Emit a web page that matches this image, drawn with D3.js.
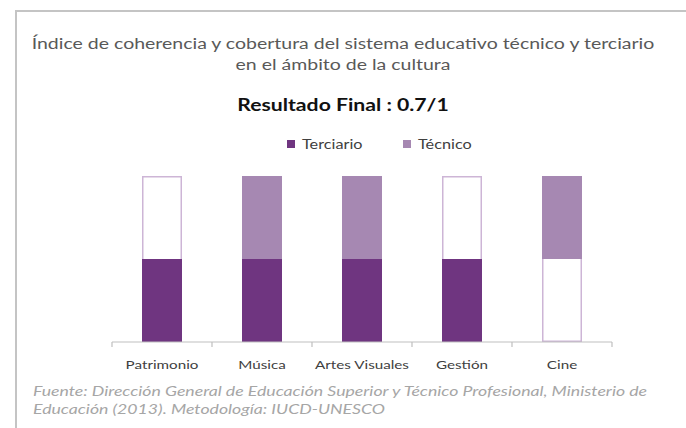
<!DOCTYPE html>
<html lang="es">
<head>
    <style>
        body { margin: 0; background: #fff; }
        svg { display: block; }
    </style>
</head>
<body>
    <svg width="686" height="428"></svg>
    <script src="https://cdn.jsdelivr.net/npm/d3@7/dist/d3.min.js"></script>
    <script>
        // Data
        const categories = ["Patrimonio", "Música", "Artes Visuales", "Gestión", "Cine"];
        const terciario = [0.5, 0.5, 0.5, 0.5, 0];
        const tecnico = [0, 0.5, 0.5, 0, 0.5];
        const tecnicoBase = 0.5; // técnico block sits above the terciario slot
        const maxScore = 1;
        const seriesNames = ["Terciario", "Técnico"];
        const colors = { terciario: "#6f3580", tecnico: "#a688b2", outline: "#cdb5d6" };

        const svg = d3.select("svg");
        const font = "Lato, 'Open Sans', sans-serif";
        const stretch = 1.3; // the source picture is widened horizontally

        // place a text at (x, y) with the horizontal stretch
        function place(sel, x, y) {
            return sel.attr("transform", `translate(${x}, ${y}) scale(${stretch}, 1)`);
        }

        // Frame
        svg.append("path")
            .attr("d", "M 16 430 L 16 11 L 690 11")
            .style("fill", "none").style("stroke", "#c4c4c4").style("stroke-width", 2);

        // Titles
        const titles = svg.append("g").style("font-family", font).attr("text-anchor", "middle");
        place(titles.append("text"), 343, 49)
            .style("font-size", "15px").style("fill", "#595959")
            .text("Índice de coherencia y cobertura del sistema educativo técnico y terciario");
        place(titles.append("text"), 343, 70)
            .style("font-size", "15px").style("fill", "#595959")
            .text("en el ámbito de la cultura");
        place(titles.append("text"), 343, 111)
            .style("font-size", "16.3px").style("font-weight", "bold").style("fill", "#111")
            .text("Resultado Final : 0.7/1");

        // Legend
        const legend = svg.append("g").style("font-family", font).style("font-size", "12.5px");
        const legendX = [287, 403];
        seriesNames.forEach((name, i) => {
            const g = legend.append("g").attr("transform", `translate(${legendX[i]}, 140)`);
            g.append("rect").attr("width", 8).attr("height", 8)
                .style("fill", i === 0 ? colors.terciario : colors.tecnico);
            place(g.append("text"), 15, 9).style("fill", "#404040").text(name);
        });

        // Scales
        const x = d3.scaleBand().domain(categories).range([112, 612]).paddingInner(0.6).paddingOuter(0.3);
        const y = d3.scaleLinear().domain([0, maxScore]).range([342, 176]);

        const chart = svg.append("g");

        // Column outlines (full scale)
        chart.selectAll(".outline").data(categories).enter()
            .append("rect").attr("class", "outline")
            .attr("x", d => x(d) + 0.75).attr("width", x.bandwidth() - 1.5)
            .attr("y", y(maxScore) + 0.75).attr("height", y(0) - y(maxScore) - 1.5)
            .style("fill", "#fff").style("stroke", colors.outline).style("stroke-width", 1.5);

        // Terciario
        chart.selectAll(".terciario").data(terciario).enter()
            .append("rect").attr("class", "terciario")
            .attr("x", (d, i) => x(categories[i])).attr("width", x.bandwidth())
            .attr("y", d => y(d)).attr("height", d => y(0) - y(d))
            .style("fill", colors.terciario);

        // Técnico
        chart.selectAll(".tecnico").data(tecnico).enter()
            .append("rect").attr("class", "tecnico")
            .attr("x", (d, i) => x(categories[i])).attr("width", x.bandwidth())
            .attr("y", d => y(tecnicoBase + d)).attr("height", d => y(tecnicoBase) - y(tecnicoBase + d))
            .style("fill", colors.tecnico);

        // Axis
        const axis = chart.append("g").attr("transform", `translate(0, ${y(0)})`)
            .call(d3.axisBottom(x).tickSize(0).tickPadding(19));
        axis.select(".domain").remove();
        axis.selectAll("text")
            .style("font-family", font).style("font-size", "11.7px").style("fill", "#404040")
            .attr("transform", `scale(${stretch}, 1)`);
        // category separators on the baseline
        const step = (x.range()[1] - x.range()[0]) / categories.length;
        const seps = d3.range(categories.length + 1).map(i => x.range()[0] + i * step);
        axis.append("line").attr("x1", seps[0]).attr("x2", seps[seps.length - 1])
            .style("stroke", "#bfbfbf").style("stroke-width", 1.2);
        axis.selectAll(".sep").data(seps).enter().append("line").attr("class", "sep")
            .attr("x1", d => d).attr("x2", d => d).attr("y1", 0).attr("y2", 5)
            .style("stroke", "#bfbfbf").style("stroke-width", 1.2);

        // Source
        const src = svg.append("g").style("font-family", font).style("font-size", "13.6px")
            .style("font-style", "italic").style("fill", "#a6a6a6");
        place(src.append("text"), 33, 396)
            .text("Fuente: Dirección General de Educación Superior y Técnico Profesional, Ministerio de");
        place(src.append("text"), 33, 414)
            .text("Educación (2013). Metodología: IUCD-UNESCO");
    </script>
</body>
</html>
